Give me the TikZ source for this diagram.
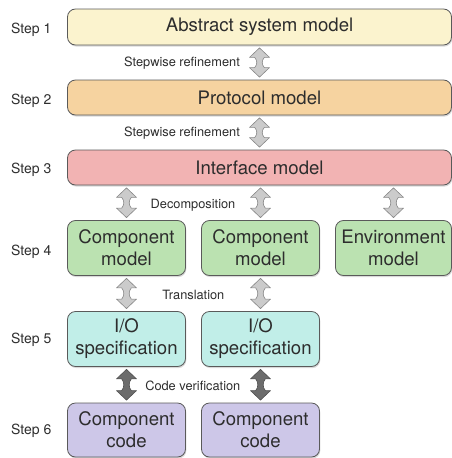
\documentclass[tikz,border=0pt]{standalone}
\usepackage{fontspec}
\setmainfont{TeX Gyre Heros}
\usepackage{xcolor}
\usetikzlibrary{calc, shadows}

\definecolor{textgray}{RGB}{45,45,45}
\definecolor{boxline}{RGB}{90,90,90}
\definecolor{absfill}{RGB}{251,243,206}
\definecolor{protofill}{RGB}{246,211,160}
\definecolor{ifacefill}{RGB}{242,179,179}
\definecolor{compfill}{RGB}{187,226,177}
\definecolor{iofill}{RGB}{193,238,232}
\definecolor{codefill}{RGB}{205,199,232}
\definecolor{arrowfill}{RGB}{203,203,203}
\definecolor{arrowline}{RGB}{135,135,135}
\definecolor{darkfill}{RGB}{108,108,108}
\definecolor{darkline}{RGB}{80,80,80}

\tikzset{
	model/.style={draw=boxline, line width=0.8pt, rounded corners=8pt,
		text=textgray, align=center, inner sep=0pt,
		font=\fontsize{18.6}{22}\selectfont,
		drop shadow={shadow xshift=0.8pt, shadow yshift=-1.6pt, opacity=0.3}},
	steplabel/.style={anchor=base west, inner sep=0pt, text=textgray,
		font=\fontsize{14}{16}\selectfont},
	arrowlabel/.style={inner sep=0pt, text=textgray,
		font=\fontsize{12.8}{15}\selectfont},
	lightarrow/.style={fill=arrowfill, draw=arrowline, line width=0.6pt, line join=round},
	darkarrow/.style={fill=darkfill, draw=darkline, line width=0.6pt, line join=round}
}

% double block arrow from the bottom of #2 to the top of #3
\newcommand{\updown}[3][lightarrow]{%
	\path[#1] let \p1=($(#2.south)+(0,-2.5pt)$), \p2=($(#3.north)+(0,2.5pt)$) in
		(\x2,\y1) -- (\x2+10pt,\y1-9.5pt) -- (\x2+4.8pt,\y1-9.5pt)
		.. controls (\x2+2pt,\y1-13pt) and (\x2+2pt,\y2+13pt) .. (\x2+4.8pt,\y2+9.5pt)
		-- (\x2+10pt,\y2+9.5pt) -- (\x2,\y2) -- (\x2-10pt,\y2+9.5pt) -- (\x2-4.8pt,\y2+9.5pt)
		.. controls (\x2-2pt,\y2+13pt) and (\x2-2pt,\y1-13pt) .. (\x2-4.8pt,\y1-9.5pt)
		-- (\x2-10pt,\y1-9.5pt) -- cycle;
}

\begin{document}
\begin{tikzpicture}[x=1pt, y=-1pt]
	\useasboundingbox (0,0) rectangle (452,458);

	% models
	\node[model, fill=absfill, minimum width=384pt, minimum height=36pt] (abs) at (259.5,27) {Abstract system model};
	\node[model, fill=protofill, minimum width=384pt, minimum height=35pt] (proto) at (259.5,97.5) {Protocol model};
	\node[model, fill=ifacefill, minimum width=384pt, minimum height=35pt] (iface) at (259.5,167.5) {Interface model};

	\node[model, fill=compfill, minimum width=118pt, minimum height=55pt] (comp1) at (126.5,248) {Component\\model};
	\node[model, fill=compfill, minimum width=118pt, minimum height=55pt] (comp2) at (260.5,248) {Component\\model};
	\node[model, fill=compfill, minimum width=116pt, minimum height=55pt] (env) at (393.5,248) {Environment\\model};

	\node[model, fill=iofill, minimum width=118pt, minimum height=55pt] (io1) at (126.5,339) {I/O\\specification};
	\node[model, fill=iofill, minimum width=118pt, minimum height=55pt] (io2) at (260.5,339) {I/O\\specification};

	\node[model, fill=codefill, minimum width=118pt, minimum height=54pt] (code1) at (126.5,430) {Component\\code};
	\node[model, fill=codefill, minimum width=118pt, minimum height=54pt] (code2) at (260.5,430) {Component\\code};

	% steps
	\foreach \n/\y in {1/28,2/99,3/168,4/250,5/338,6/429}
	{
		\node[steplabel] (step\n) at (11,\y+5) {Step \n};
	}

	% arrows
	\updown{abs}{proto}
	\updown{proto}{iface}
	\updown{iface}{comp1}
	\updown{iface}{comp2}
	\updown{iface}{env}
	\updown{comp1}{io1}
	\updown{comp2}{io2}
	\updown[darkarrow]{io1}{code1}
	\updown[darkarrow]{io2}{code2}

	\node[arrowlabel, anchor=base east] (refine1) at (240,66.6) {Stepwise refinement};
	\node[arrowlabel, anchor=base east] (refine2) at (240,136.3) {Stepwise refinement};
	\node[arrowlabel, anchor=base] (decomp) at (193,208) {Decomposition};
	\node[arrowlabel, anchor=base] (transl) at (193.3,299) {Translation};
	\node[arrowlabel, anchor=base] (verif) at (192.8,390.6) {Code verification};
\end{tikzpicture}
\end{document}
